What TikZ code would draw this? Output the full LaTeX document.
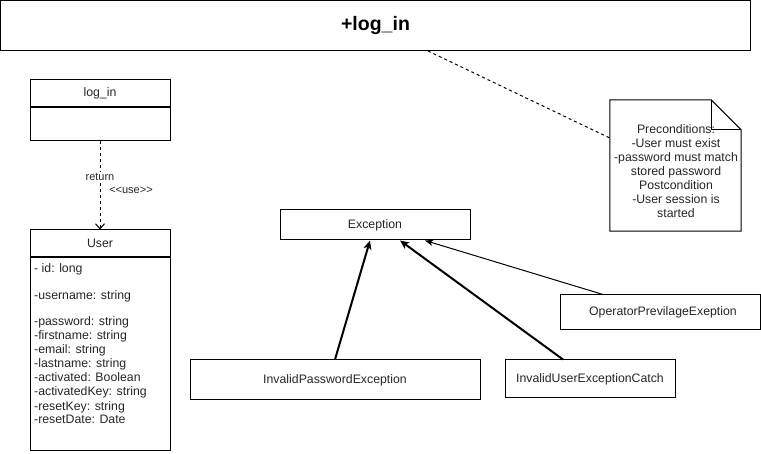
\documentclass[tikz,border=0pt]{standalone}
\usepackage{fontspec}
\setmainfont{Liberation Sans}
\usetikzlibrary{arrows.meta}
\definecolor{txt}{HTML}{262626}
\begin{document}
\begin{tikzpicture}[x=1pt,y=-1pt,
  lbl/.style={font=\fontsize{12.3}{14}\selectfont, text=txt},
  box/.style={draw=black, line width=1pt, fill=white, inner sep=0pt, lbl},
  genthick/.style={line width=2pt, -{Stealth[length=9pt,width=8pt,inset=2.5pt]}},
  genthin/.style={line width=1pt, -{Stealth[length=8pt,width=6pt,inset=2pt]}},
  usedep/.style={line width=1pt, dash pattern=on 3pt off 3pt, -{Straight Barb[length=5pt,width=9pt]}},
  anchline/.style={line width=1pt, dash pattern=on 3pt off 3pt}]

\useasboundingbox[fill=white] (0,0) rectangle (761,454);

% operation header
\node[box, minimum width=750pt, minimum height=50pt,
      font=\bfseries\fontsize{19.5}{22}\selectfont, text=black] (title) at (375.5,25.5) {+log\_in};

% log_in class
\node[box, minimum width=140pt, minimum height=27pt] (loginh) at (100,93.5) {log\_in};
\node[box, minimum width=140pt, minimum height=33pt, anchor=north] (loginb) at (loginh.south) {};

% User class
\node[box, minimum width=140pt, minimum height=27pt] (userh) at (100,243.5) {User};
\node[box, minimum width=140pt, minimum height=193pt, anchor=north] (userb) at (userh.south) {};
\foreach \i/\yy/\t in {1/273/{- id: long},
                       2/300/{-username: string},
                       3/326/{-password: string},
                       4/340/{-firstname: string},
                       5/354/{-email: string},
                       6/368/{-lastname: string},
                       7/382/{-activated: Boolean},
                       8/396/{-activatedKey: string},
                       9/410/{-resetKey: string},
                       10/424/{-resetDate: Date}}
  \node[lbl, anchor=base west, inner sep=0pt] (attr\i) at (34,\yy) {\t};

% usage dependency
\draw[usedep] (loginb.south) -- (userh.north);
\node[lbl, font=\fontsize{11}{13}\selectfont, fill=white, inner sep=1pt] (retlbl) at (100,177) {return};
\node[lbl, font=\fontsize{11}{13}\selectfont, inner sep=0pt] (uselbl) at (131,190) {{<}{<}use{>}{>}};

% exception hierarchy
\node[box, minimum width=190pt, minimum height=30pt] (exc) at (375,225) {Exception};
\node[box, minimum width=290pt, minimum height=40pt] (ipe) at (335,380) {InvalidPasswordException};
\node[box, minimum width=170pt, minimum height=38pt] (iue) at (590,379) {InvalidUserExceptionCatch};
\node[box, minimum width=200pt, minimum height=35pt] (ope) at (660,312.5) {\hspace*{6pt}OperatorPrevilageExeption};

\draw[genthick] (ipe.north) -- ([xshift=-5pt]exc.south);
\draw[genthick] ([xshift=-27pt]iue.north) -- ([xshift=25pt]exc.south);
\draw[genthin] ([xshift=-57pt]ope.north) -- ([xshift=50pt]exc.south);

% note with folded corner
\node[minimum width=131pt, minimum height=131pt, inner sep=0pt] (note) at (675.5,165.5) {};
\draw[line width=1pt, fill=white] (note.north west) -- ([xshift=-30pt]note.north east)
  -- ([yshift=-30pt]note.north east) -- (note.south east) -- (note.south west) -- cycle;
\draw[line width=1pt] ([xshift=-30pt]note.north east) -- ([xshift=-30pt,yshift=-30pt]note.north east)
  -- ([yshift=-30pt]note.north east);
\node[lbl, align=center, inner sep=0pt] (notetxt) at (676,171)
  {Preconditions:\\-User must exist\\-password must match\\stored password\\Postcondition\\-User session is\\started};

\draw[anchline] ([xshift=52.5pt]title.south) -- ([yshift=27.5pt]note.west);

\end{tikzpicture}
\end{document}
